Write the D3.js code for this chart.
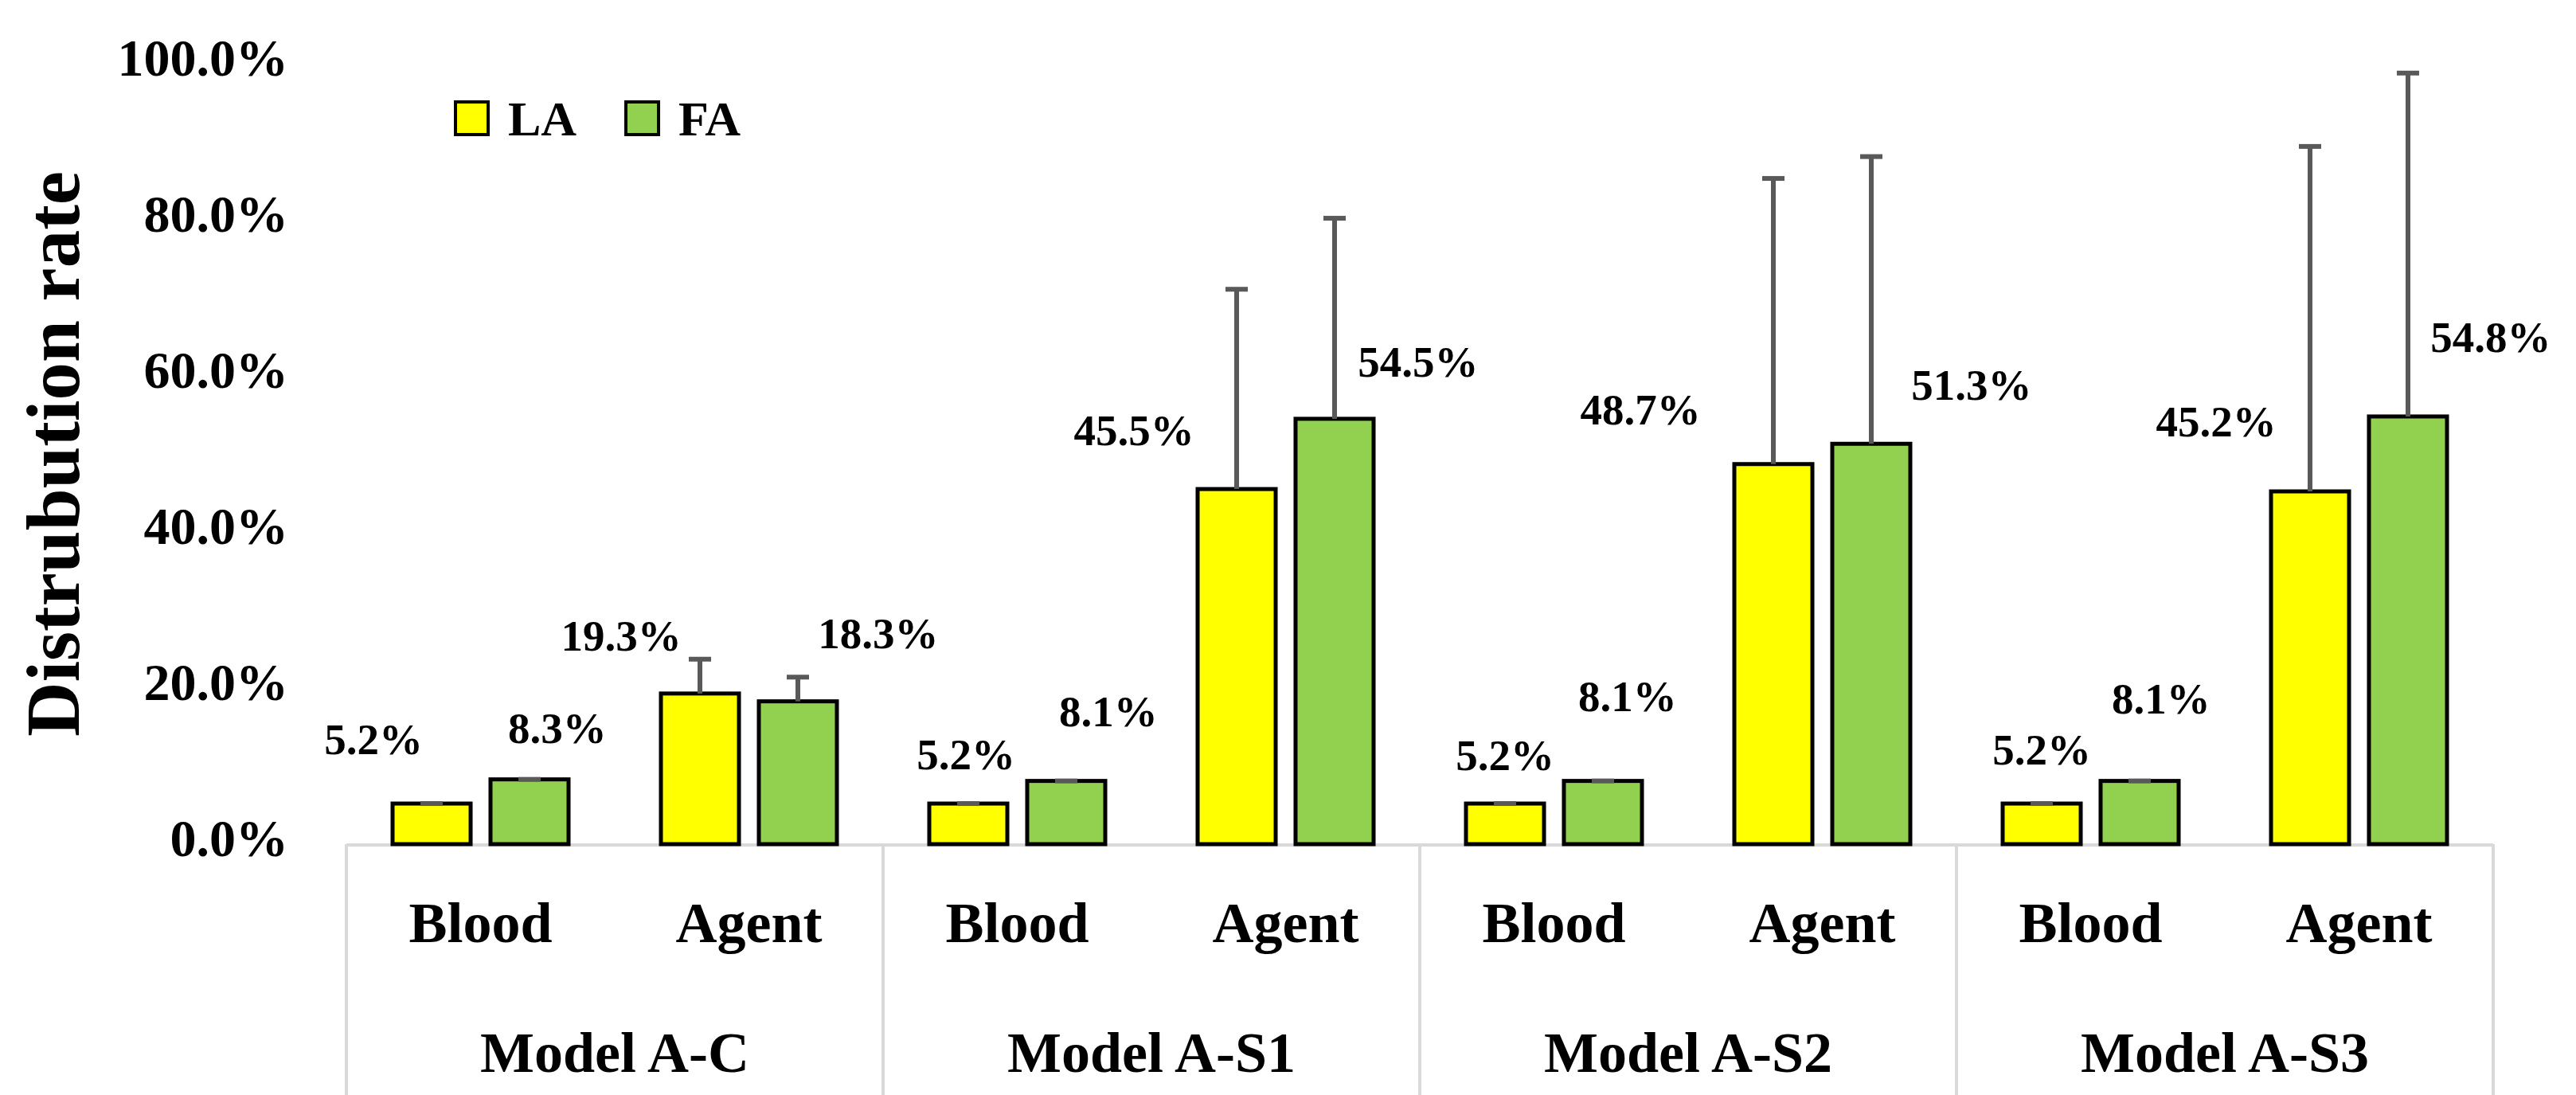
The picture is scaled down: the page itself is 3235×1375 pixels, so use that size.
<!DOCTYPE html>
<html>
<head>
<meta charset="utf-8">
<script src="https://cdn.jsdelivr.net/npm/d3@7"></script>
<style>
  body { margin: 0; background: #fff; }
  text { font-family: "Palatino Linotype", "Book Antiqua", "Liberation Serif", serif; font-weight: bold; fill: #000; }
</style>
</head>
<body>
<div id="chart"></div>
<script>
// data
var models = ["Model A-C", "Model A-S1", "Model A-S2", "Model A-S3"];
var sites = ["Blood", "Agent"];
var series = ["LA", "FA"];
// order: model by model, Blood then Agent
var laValues = [5.2, 19.3, 5.2, 45.5, 5.2, 48.7, 5.2, 45.2];
var faValues = [8.3, 18.3, 8.1, 54.5, 8.1, 51.3, 8.1, 54.8];
var laErr = [0, 4.4, 0, 25.6, 0, 36.6, 0, 44.2];
var faErr = [0, 3.1, 0, 25.7, 0, 36.8, 0, 44.0];
var yTicks = [0, 20, 40, 60, 80, 100];

// manual label nudges (px from bar centre / bar top), like the hand-moved labels in the original
var laNudge = [[-73, 79], [-99, 71], [-3, 60], [-129, 72], [0, 59], [-167, 66], [0, 66], [-118, 86]];
var faNudge = [[35, 62], [101, 83], [53, 85], [105, 70], [31, 104], [126, 72], [27, 101], [104, 98]];

var colors = { LA: "#FFFF00", FA: "#92D050" };

var W = 3235, H = 1375;
var plotLeft = 435, plotRight = 3131, baseY = 1060, topY = 80;

var svg = d3.select("#chart").append("svg")
  .attr("width", W)
  .attr("height", H);

// build rows
var rows = [];
models.forEach(function (m, i) {
  sites.forEach(function (s, j) {
    var k = i * sites.length + j;
    rows.push({ model: m, site: s, k: k,
      vals: [
        { key: "LA", v: laValues[k], e: laErr[k], n: laNudge[k] },
        { key: "FA", v: faValues[k], e: faErr[k], n: faNudge[k] }
      ] });
  });
});

var x0 = d3.scaleBand().domain(models).range([plotLeft, plotRight]);
var x1 = d3.scaleBand().domain(sites).range([0, x0.bandwidth()]);
var mid = x1.bandwidth() / 2;
var x2 = d3.scaleBand().domain(series).range([mid - 110.5, mid + 110.5]).paddingInner(0.203);
var y = d3.scaleLinear().domain([0, 100]).range([baseY, topY]);

// y axis labels
var yAxis = svg.append("g")
  .attr("transform", "translate(" + plotLeft + ",0)")
  .call(d3.axisLeft(y).tickValues(yTicks).tickSize(0).tickPadding(73)
    .tickFormat(function (d) { return d3.format(".1f")(d) + "%"; }));
yAxis.select(".domain").remove();
yAxis.selectAll("text")
  .attr("dy", "0.22em")
  .style("font-size", "66px")
  .style("font-family", null);

// category axis frame
var frame = svg.append("g").attr("stroke", "#D9D9D9").attr("stroke-width", 4);
frame.append("line")
  .attr("x1", plotLeft).attr("x2", plotRight)
  .attr("y1", baseY + 1).attr("y2", baseY + 1);
models.concat([null]).forEach(function (m) {
  var xx = m === null ? plotRight : x0(m);
  frame.append("line")
    .attr("x1", xx).attr("x2", xx)
    .attr("y1", baseY).attr("y2", H);
});

// inner and outer category labels
rows.forEach(function (r) {
  svg.append("text")
    .attr("x", x0(r.model) + x1(r.site) + mid)
    .attr("y", 1183)
    .attr("text-anchor", "middle")
    .style("font-size", "72px")
    .text(r.site);
});
models.forEach(function (m) {
  svg.append("text")
    .attr("x", x0(m) + x0.bandwidth() / 2)
    .attr("y", 1346)
    .attr("text-anchor", "middle")
    .style("font-size", "72px")
    .text(m);
});

// bars
var groups = svg.selectAll("g.site")
  .data(rows)
  .enter()
  .append("g")
  .attr("class", "site")
  .attr("transform", function (d) {
    return "translate(" + (x0(d.model) + x1(d.site)) + ",0)";
  });

groups.selectAll("rect")
  .data(function (d) { return d.vals; })
  .enter()
  .append("rect")
  .attr("x", function (d) { return x2(d.key); })
  .attr("width", x2.bandwidth())
  .attr("y", function (d) { return y(d.v); })
  .attr("height", function (d) { return baseY - y(d.v); })
  .attr("fill", function (d) { return colors[d.key]; })
  .attr("stroke", "#000")
  .attr("stroke-width", 5);

// error bars (plus only)
var err = groups.selectAll("g.err")
  .data(function (d) { return d.vals; })
  .enter()
  .append("g")
  .attr("class", "err")
  .attr("stroke", "#595959")
  .attr("stroke-width", 6);
err.append("line")
  .attr("x1", function (d) { return x2(d.key) + x2.bandwidth() / 2; })
  .attr("x2", function (d) { return x2(d.key) + x2.bandwidth() / 2; })
  .attr("y1", function (d) { return y(d.v); })
  .attr("y2", function (d) { return y(d.v + d.e); });
err.append("line")
  .attr("x1", function (d) { return x2(d.key) + x2.bandwidth() / 2 - 14; })
  .attr("x2", function (d) { return x2(d.key) + x2.bandwidth() / 2 + 14; })
  .attr("y1", function (d) { return y(d.v + d.e); })
  .attr("y2", function (d) { return y(d.v + d.e); });

// value labels
groups.selectAll("text.val")
  .data(function (d) { return d.vals; })
  .enter()
  .append("text")
  .attr("class", "val")
  .attr("x", function (d) { return x2(d.key) + x2.bandwidth() / 2 + d.n[0]; })
  .attr("y", function (d) { return y(d.v) - 2.5 - d.n[1]; })
  .attr("dy", "0.35em")
  .attr("text-anchor", "middle")
  .style("font-size", "55px")
  .text(function (d) { return d.v.toFixed(1) + "%"; });

// legend
var legend = svg.append("g").attr("transform", "translate(572,128)");
series.forEach(function (s, i) {
  var g = legend.append("g").attr("transform", "translate(" + i * 214 + ",0)");
  g.append("rect")
    .attr("width", 41).attr("height", 41)
    .attr("fill", colors[s])
    .attr("stroke", "#000")
    .attr("stroke-width", 4);
  g.append("text")
    .attr("x", 66).attr("y", 42)
    .style("font-size", "62px")
    .text(s);
});

// y axis title
svg.append("text")
  .attr("transform", "translate(99,570) rotate(-90)")
  .attr("text-anchor", "middle")
  .style("font-size", "95px")
  .text("Distrubution rate");
</script>
</body>
</html>
